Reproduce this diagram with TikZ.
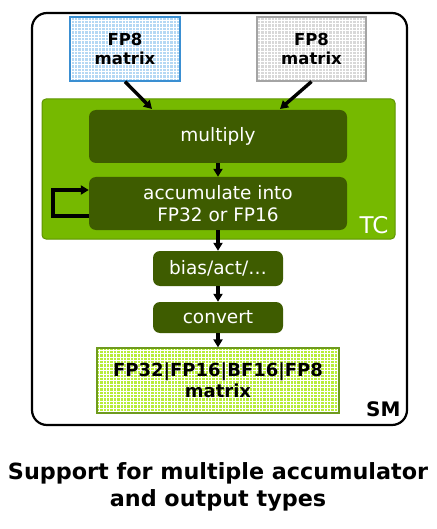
\documentclass[tikz,border=0pt]{standalone}
\usepackage{fontspec}
\setmainfont{DejaVu Sans}
\usetikzlibrary{arrows.meta}
\definecolor{nvgreen}{HTML}{76B900}
\definecolor{nvdark}{HTML}{3E5C00}
\definecolor{tcedge}{HTML}{5E9400}
\definecolor{inblue}{HTML}{B4D8F4}
\definecolor{inblueedge}{HTML}{3A8FD2}
\definecolor{ingray}{HTML}{D8D8D8}
\definecolor{ingrayedge}{HTML}{A4A4A4}
\definecolor{outgreen}{HTML}{B8EC3A}
\definecolor{outedge}{HTML}{6E9A1E}
\tikzset{
	gridbox/.style={draw, line width=1.2pt, inner sep=0pt, align=center, font=\fontsize{16.5}{19}\selectfont\bfseries,
		path picture={\draw[white, line width=0.7pt, step=3.4pt] (path picture bounding box.south west) grid (path picture bounding box.north east);}},
	stage/.style={fill=nvdark, rounded corners=7pt, inner sep=0pt, text=white, align=center, font=\fontsize{18.5}{22.5}\selectfont},
	arr/.style={line width=3.4pt, -{Triangle[length=8pt,width=9pt]}}
}
\begin{document}
\begin{tikzpicture}[x=1pt,y=-1pt]
	\useasboundingbox (0,0) rectangle (436,529);
	\fill[white] (0,0) rectangle (436,529);
	
	\draw[line width=2.2pt, rounded corners=15pt] (32,13) rectangle (407,425);
	\node[anchor=south east, font=\fontsize{20}{24}\selectfont\bfseries] (smlabel) at (404,420) {SM};
	
	\node[gridbox, fill=inblue, draw=inblueedge, minimum width=110pt, minimum height=64pt] (fpa) at (125,49) {FP8\\matrix};
	\node[gridbox, fill=ingray, draw=ingrayedge, minimum width=109pt, minimum height=64pt] (fpb) at (311.5,49) {FP8\\matrix};
	
	\node[fill=nvgreen, draw=tcedge, line width=1pt, rounded corners=4pt, minimum width=353pt, minimum height=140pt] (tc) at (218.5,169) {};
	\node[anchor=south east, text=white, font=\fontsize{23}{26}\selectfont] (tclabel) at (392,237) {TC};
	
	\node[stage, minimum width=258pt, minimum height=53pt] (mul) at (218,136.5) {multiply};
	\node[stage, minimum width=258pt, minimum height=53pt] (acc) at (218,203.5) {accumulate into\\FP32 or FP16};
	\node[stage, minimum width=130pt, minimum height=35pt] (bias) at (218,268.5) {bias/act/\dots};
	\node[stage, minimum width=130pt, minimum height=31pt] (conv) at (218,317.5) {convert};
	\node[gridbox, fill=outgreen, draw=outedge, minimum width=242pt, minimum height=65pt, font=\fontsize{18}{21}\selectfont\bfseries] (out) at (218,380.5) {FP32|FP16|BF16|FP8\\matrix};
	
	\coordinate (ina) at (152,109);
	\coordinate (inb) at (280,109);
	\draw[arr] (fpa.south) -- (ina);
	\draw[arr] (fpb.south) -- (inb);
	\draw[arr] (mul) -- (acc);
	\draw[arr] ([yshift=-12.5pt]acc.west) -- ++(-36,0) |- ([yshift=13.5pt]acc.west);
	\draw[arr] (acc) -- (bias);
	\draw[arr] (bias) -- (conv);
	\draw[arr] (conv) -- (out);
	
	\node[align=center, font=\fontsize{22.3}{27}\selectfont\bfseries] (caption) at (218,487) {Support for multiple accumulator\\and output types};
\end{tikzpicture}
\end{document}
